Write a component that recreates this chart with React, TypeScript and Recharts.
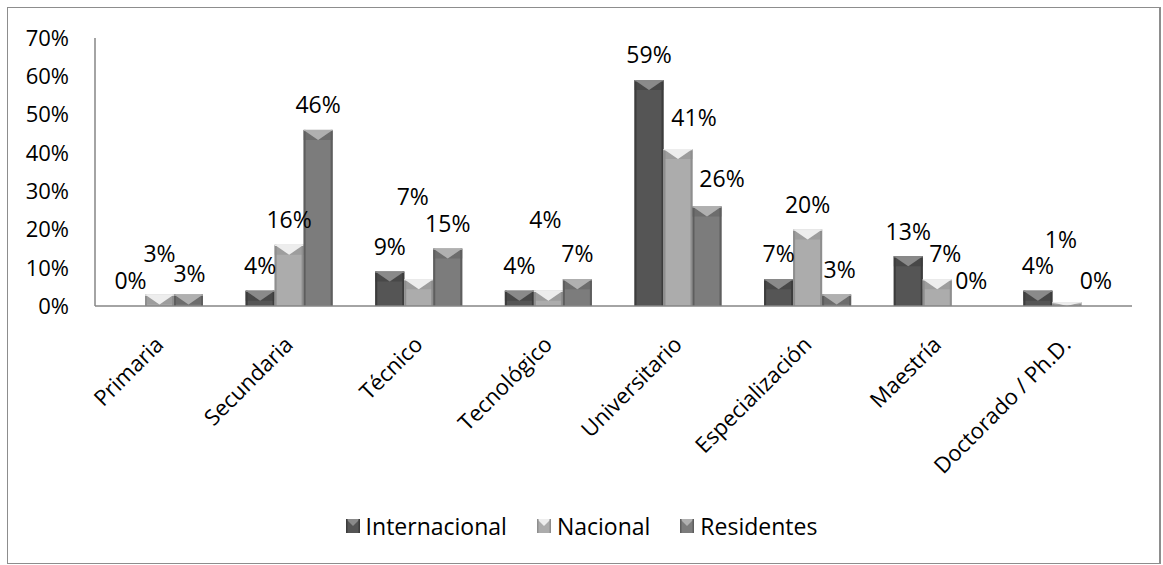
import React from "react";
import { BarChart, Bar, XAxis, YAxis, Legend, LabelList } from "recharts";

const categories = [
  "Primaria",
  "Secundaria",
  "Técnico",
  "Tecnológico",
  "Universitario",
  "Especialización",
  "Maestría",
  "Doctorado / Ph.D.",
];
const internacional = [0, 4, 9, 4, 59, 7, 13, 4];
const nacional = [3, 16, 7, 4, 41, 20, 7, 1];
const residentes = [3, 46, 15, 7, 26, 3, 0, 0];
const yTicks = [0, 10, 20, 30, 40, 50, 60, 70];

const data = categories.map((name, i) => ({
  name,
  Internacional: internacional[i],
  Nacional: nacional[i],
  Residentes: residentes[i],
}));

// label nudges (the source chart had some labels dragged by hand)
const labelNudge: Record<string, Record<string, [number, number]>> = {
  Nacional: {
    Primaria: [0, -16],
    "Técnico": [-6, -57],
    "Tecnológico": [-3, -46],
    Universitario: [16, -6],
    "Maestría": [8, 0],
    "Doctorado / Ph.D.": [-6, -37],
  },
  Residentes: {
    Primaria: [1, 4],
    Universitario: [15, -3],
    "Especialización": [3, 0],
    "Maestría": [5, 0],
  },
};

const series = [
  { key: "Internacional", base: "#555555", light: "#8a8a8a", dark: "#3c3c3c" },
  { key: "Nacional", base: "#acacac", light: "#ededed", dark: "#8e8e8e" },
  { key: "Residentes", base: "#7c7c7c", light: "#b0b0b0", dark: "#5e5e5e" },
];

const FONT = '"Open Sans", sans-serif';

const BevelBar = (props: any) => {
  const { x, y, width, height, base, light, dark } = props;
  if (!height || height <= 0) return null;
  const b = Math.min(10, height);
  return (
    <g>
      <rect x={x} y={y} width={width} height={height} fill={base} />
      <rect x={x} y={y} width={2} height={height} fill={dark} />
      <rect x={x + width - 2} y={y} width={2} height={height} fill={dark} />
      <polygon points={`${x},${y} ${x + width / 2},${y + b} ${x},${y + b}`} fill={dark} opacity={0.5} />
      <polygon points={`${x + width},${y} ${x + width / 2},${y + b} ${x + width},${y + b}`} fill={dark} opacity={0.5} />
      <polygon points={`${x},${y} ${x + width},${y} ${x + width / 2},${y + b}`} fill={light} />
      <rect x={x} y={y} width={width} height={1.2} fill={light} />
    </g>
  );
};

const makeLabel = (key: string) => (p: any) => {
  const vb = p.viewBox || p;
  const name = categories[p.index];
  const [dx, dy] = labelNudge[key]?.[name] ?? [0, 0];
  const cx = vb.x + vb.width / 2 + dx;
  const cy = vb.y - 25 + dy;
  return (
    <text x={cx} y={cy} dy="0.36em" textAnchor="middle" fontSize={23} fontFamily={FONT} fill="#000">
      {`${p.value}%`}
    </text>
  );
};

const CategoryTick = (props: any) => {
  const { x, y, payload } = props;
  return (
    <text
      x={x + 5}
      y={y + 32}
      textAnchor="end"
      fontSize={22}
      fontFamily={FONT}
      fill="#000"
      transform={`rotate(-45 ${x + 5} ${y + 32})`}
    >
      {payload.value}
    </text>
  );
};

const LegendContent = () => (
  <div style={{ display: "flex", justifyContent: "center", alignItems: "center", fontFamily: FONT, fontSize: 23 }}>
    {series.map((s, i) => (
      <div key={s.key} style={{ display: "flex", alignItems: "center", marginLeft: i === 0 ? 0 : 30 }}>
        <svg width={14} height={14} style={{ marginRight: 6 }}>
          <rect x={0} y={0} width={14} height={14} fill={s.base} />
          <polygon points="0,0 14,0 7,7" fill={s.light} />
          <rect x={0} y={0} width={1.5} height={14} fill={s.dark} />
          <rect x={12.5} y={0} width={1.5} height={14} fill={s.dark} />
        </svg>
        <span>{s.key}</span>
      </div>
    ))}
  </div>
);

export default function App() {
  return (
    <div style={{ position: "absolute", left: 0, top: 0, width: 1163, height: 565, background: "#fff" }}>
      <div
        style={{
          position: "absolute",
          left: 7,
          top: 7,
          width: 1151,
          height: 555,
          border: "1px solid #8d8d8d",
          borderRight: "2px solid #8d8d8d",
        }}
      />
      <BarChart
        width={1163}
        height={565}
        data={data}
        margin={{ top: 38, right: 31, left: 0, bottom: 0 }}
        barSize={29}
        barGap={0}
        style={{ fontFamily: FONT }}
      >
        <XAxis
          dataKey="name"
          height={259}
          interval={0}
          tickLine={false}
          axisLine={{ stroke: "#868686", strokeWidth: 1.5 }}
          tick={<CategoryTick />}
        />
        <YAxis
          width={95}
          domain={[0, 70]}
          ticks={yTicks}
          tickLine={false}
          tickSize={0}
          tickMargin={26}
          axisLine={{ stroke: "#868686", strokeWidth: 1.5 }}
          tick={{ fontSize: 22, fill: "#000", fontFamily: FONT }}
          tickFormatter={(v: number) => `${v}%`}
        />
        <Legend
          layout="horizontal"
          verticalAlign="middle"
          align="center"
          wrapperStyle={{ top: 510, left: 0, width: 1163 }}
          content={<LegendContent />}
        />
        {series.map((s) => (
          <Bar
            key={s.key}
            dataKey={s.key}
            isAnimationActive={false}
            fill={s.base}
            shape={(p: any) => <BevelBar {...p} base={s.base} light={s.light} dark={s.dark} />}
          >
            <LabelList dataKey={s.key} content={makeLabel(s.key)} />
          </Bar>
        ))}
      </BarChart>
    </div>
  );
}
